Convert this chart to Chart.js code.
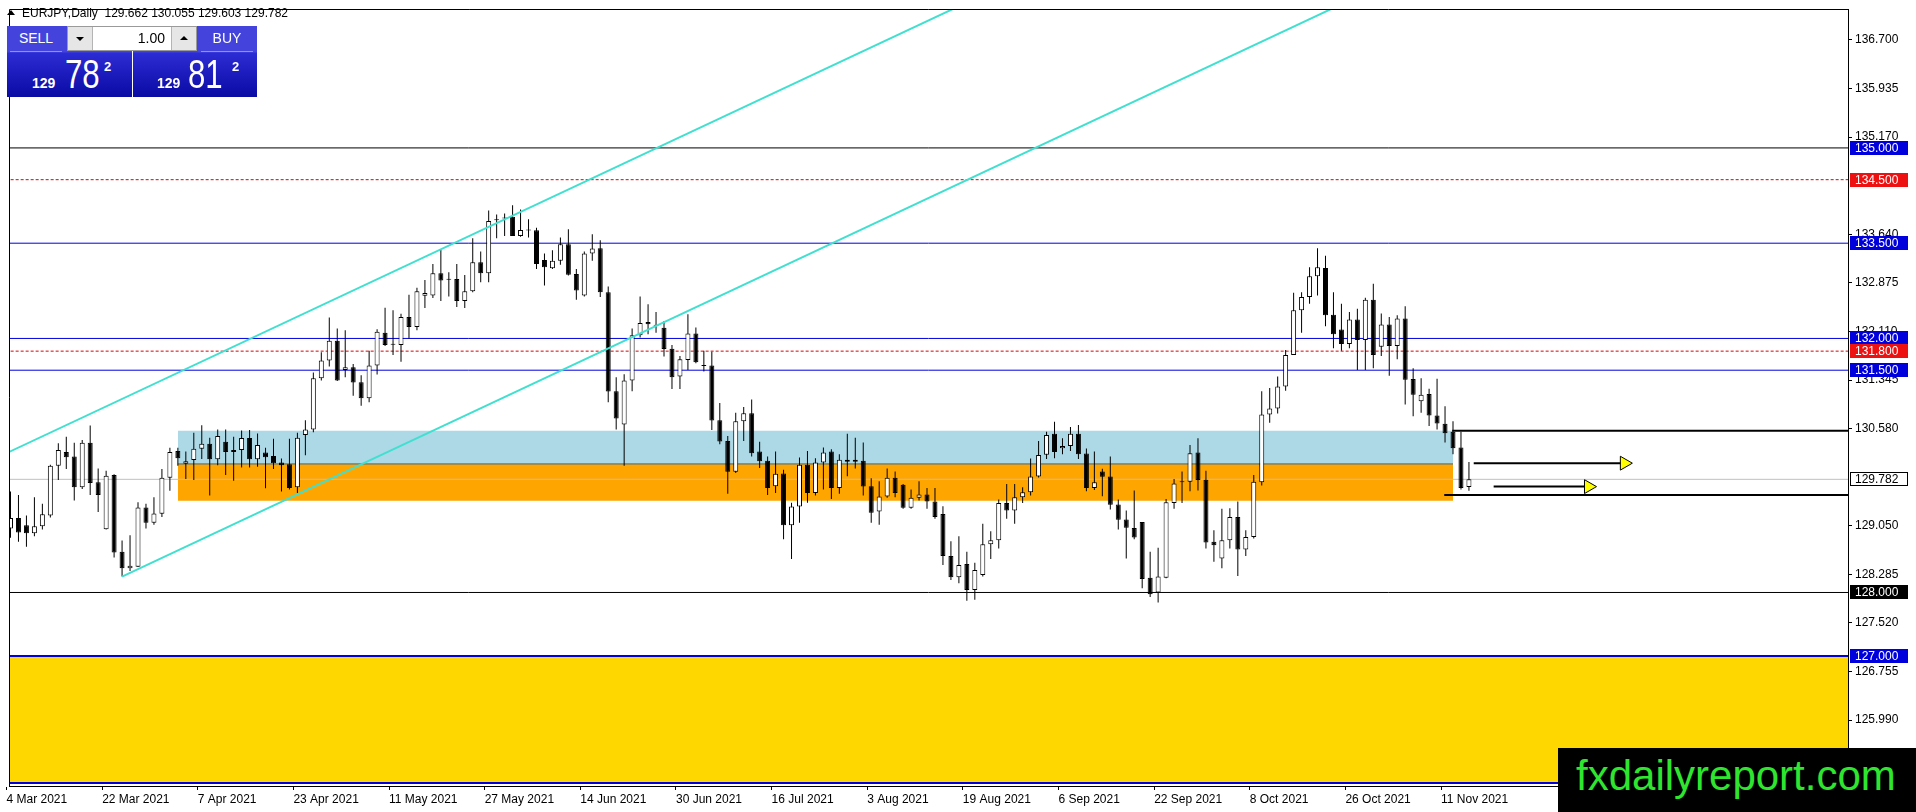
<!DOCTYPE html>
<html>
<head>
<meta charset="utf-8">
<title>EURJPY, Daily</title>
<script src="https://cdn.jsdelivr.net/npm/chart.js@4.4.0/dist/chart.umd.min.js"></script>
<style>
  html, body { margin: 0; padding: 0; background: #fff; }
  #wrap { position: relative; width: 1916px; height: 812px; overflow: hidden; font-family: "Liberation Sans", Arial, sans-serif; }
  #chart { position: absolute; left: 0; top: 0; }
  #title { position: absolute; left: 22px; top: 7px; font-size: 12px; line-height: 1; color: #000; white-space: pre; }
  #tri { position: absolute; left: 7px; top: 10px; width: 0; height: 0;
    border-left: 4px solid transparent; border-right: 4px solid transparent; border-bottom: 5px solid #000; }
  .blk { position: absolute; top: 26px; height: 71px; overflow: hidden; color: #fff;
    background: linear-gradient(to bottom, #4444dc 0px, #4444dc 26px, #2c2cd4 27px, #0a0aa4 71px); }
  #sell { left: 7px; width: 125px; }
  #buy { left: 133px; width: 124px; }
  .lab { position: absolute; top: 0; width: 52px; height: 25px; line-height: 25px; text-align: center;
    font-size: 14px; border-bottom: 1px solid #9090f0; }
  #sell .lab { left: 3px; }
  #buy .lab { left: 68px; }
  .big { position: absolute; line-height: 1; white-space: nowrap; }
  .b1 { top: 50px; font-size: 14px; font-weight: bold; }
  .b2 { top: 28px; font-size: 40px; transform: scaleX(0.78); transform-origin: left top; }
  .b3 { top: 34px; font-size: 13px; font-weight: bold; }
  #lot { position: absolute; left: 67px; top: 26px; width: 128px; height: 23px; background: #fff; border: 1px solid #9a9a9a; }
  #lot .btn { position: absolute; top: 0; width: 24px; height: 23px; background: #e6e6e6; }
  #lot .dn { left: 0; border-right: 1px solid #b4b4b4; }
  #lot .up { right: 0; border-left: 1px solid #b4b4b4; }
  #lot .btn i { position: absolute; left: 8px; width: 0; height: 0; border-left: 4px solid transparent; border-right: 4px solid transparent; }
  #lot .dn i { top: 10px; border-top: 4px solid #000; }
  #lot .up i { top: 9px; border-bottom: 4px solid #000; }
  #lot .val { position: absolute; left: 26px; width: 71px; top: 0; height: 23px; line-height: 23px; text-align: right; font-size: 14px; color: #000; }
  #brand { position: absolute; left: 1558px; top: 748px; width: 358px; height: 64px; background: #000; }
  #brand span { position: absolute; left: 18px; top: 7px; font-size: 42px; line-height: 1; color: #2fe52f; white-space: nowrap; }
</style>
</head>
<body>
<div id="wrap">
  <canvas id="chart" width="1916" height="812"></canvas>
  <div id="tri"></div>
  <div id="title"></div>
  <div class="blk" id="sell">
    <div class="lab">SELL</div>
    <span class="big b1" style="left:25px">129</span>
    <span class="big b2" style="left:58px">78</span>
    <span class="big b3" style="left:97px">2</span>
  </div>
  <div class="blk" id="buy">
    <div class="lab">BUY</div>
    <span class="big b1" style="left:24px">129</span>
    <span class="big b2" style="left:55px">81</span>
    <span class="big b3" style="left:99px">2</span>
  </div>
  <div id="lot">
    <div class="btn dn"><i></i></div>
    <div class="val">1.00</div>
    <div class="btn up"><i></i></div>
  </div>
  <div id="brand"><span>fxdailyreport.com</span></div>
</div>
<script>
// daily bars, 4 Mar 2021 .. 16 Nov 2021 (index = bar number)
const opens = [
  129.006, 129.172, 129.058, 128.933, 129.042, 129.214, 129.995, 130.213, 130.140, 129.657,
  130.359, 129.735, 128.995, 129.850, 128.640, 128.380, 128.406, 129.339, 129.100, 129.240,
  129.807, 130.229, 130.026, 130.088, 130.265, 130.343, 130.099, 130.375, 130.213, 130.244,
  130.432, 130.099, 130.203, 130.150, 130.047, 130.021, 129.657, 130.479, 130.567, 131.375,
  131.651, 131.963, 131.505, 131.547, 131.312, 131.057, 131.573, 132.088, 131.906, 131.895,
  132.338, 132.182, 132.672, 132.677, 133.026, 132.930, 132.937, 132.588, 132.745, 133.198,
  133.026, 133.860, 133.890, 133.916, 133.614, 133.703, 133.703, 133.234, 133.104, 133.224,
  133.484, 133.015, 132.677, 133.338, 133.421, 132.729, 131.167, 130.646, 131.339, 132.052,
  132.260, 132.209, 132.167, 131.839, 131.401, 131.662, 132.078, 131.568, 131.573, 130.714,
  130.386, 129.901, 130.698, 130.823, 130.219, 130.073, 129.672, 129.875, 129.058, 129.354,
  130.011, 129.568, 130.047, 130.219, 129.646, 130.089, 130.057, 130.073, 129.672, 129.276,
  129.511, 129.808, 129.698, 129.334, 129.490, 129.541, 129.432, 129.234, 128.573, 128.239,
  128.448, 128.041, 128.276, 128.760, 128.823, 129.411, 129.291, 129.500, 129.578, 129.828,
  130.167, 130.500, 130.271, 130.308, 130.500, 130.188, 129.646, 129.906, 129.828, 129.385,
  129.151, 129.015, 129.109, 128.234, 127.999, 128.234, 129.411, 129.735, 129.745, 130.203,
  129.776, 128.797, 128.537, 128.823, 129.188, 128.677, 128.875, 129.735, 130.802, 130.896,
  131.245, 131.740, 132.443, 132.651, 132.980, 133.110, 132.375, 132.141, 131.912, 132.297,
  131.974, 132.610, 131.870, 132.219, 131.880, 132.313, 131.360, 131.011, 131.125, 130.787,
  130.657, 130.532, 130.282, 129.662
];
const highs = [
  129.589, 129.537, 129.214, 129.500, 129.396, 130.010, 130.350, 130.453, 130.359, 130.400,
  130.630, 129.953, 129.917, 129.860, 128.820, 128.900, 129.420, 129.396, 129.500, 129.943,
  130.280, 130.280, 130.220, 130.515, 130.635, 130.437, 130.567, 130.567, 130.453, 130.552,
  130.557, 130.505, 130.280, 130.420, 130.109, 130.420, 130.515, 130.713, 131.463, 131.781,
  132.328, 132.156, 132.130, 131.599, 131.420, 131.807, 132.146, 132.484, 132.443, 132.390,
  132.687, 132.797, 132.922, 133.172, 133.396, 133.042, 133.172, 133.000, 133.578, 133.370,
  134.015, 133.950, 133.968, 134.098, 134.030, 133.875, 133.745, 133.338, 133.390, 133.589,
  133.718, 133.093, 133.370, 133.640, 133.547, 132.817, 131.391, 131.438, 132.157, 132.662,
  132.537, 132.417, 132.276, 131.896, 131.724, 132.380, 132.172, 131.808, 131.792, 130.985,
  130.464, 130.829, 130.922, 131.037, 130.375, 130.141, 130.219, 129.933, 129.412, 130.125,
  130.229, 130.115, 130.281, 130.255, 130.177, 130.500, 130.438, 130.360, 129.797, 129.750,
  129.953, 129.907, 129.710, 129.620, 129.750, 129.645, 129.645, 129.359, 128.807, 128.885,
  128.640, 128.469, 129.083, 128.963, 129.463, 129.708, 129.708, 129.656, 130.109, 130.386,
  130.532, 130.688, 130.427, 130.605, 130.636, 130.266, 130.219, 129.950, 130.141, 129.463,
  129.291, 129.604, 129.110, 128.640, 128.703, 129.473, 129.786, 129.906, 130.323, 130.427,
  129.917, 128.979, 129.318, 129.328, 129.433, 128.979, 129.849, 131.167, 131.219, 131.401,
  131.818, 132.719, 132.729, 133.120, 133.422, 133.302, 132.729, 132.547, 132.417, 132.469,
  132.641, 132.860, 132.391, 132.339, 132.365, 132.506, 131.531, 131.375, 131.209, 131.365,
  130.933, 130.698, 130.532, 130.055
];
const lows = [
  128.860, 128.797, 128.719, 128.886, 128.990, 129.180, 129.771, 129.943, 129.448, 129.630,
  129.537, 129.266, 128.990, 128.550, 128.250, 128.340, 128.400, 129.006, 129.068, 129.188,
  129.600, 129.995, 129.787, 129.771, 130.100, 129.526, 130.005, 129.850, 129.760, 129.970,
  129.970, 129.980, 129.640, 129.943, 129.589, 129.620, 129.568, 130.160, 130.525, 131.338,
  131.557, 131.330, 131.390, 131.099, 130.942, 130.994, 131.432, 131.880, 131.740, 131.635,
  132.000, 132.130, 132.479, 132.635, 132.588, 132.661, 132.495, 132.479, 132.729, 132.885,
  132.885, 133.578, 133.614, 133.614, 133.600, 133.588, 133.093, 132.833, 133.093, 133.161,
  132.990, 132.609, 132.661, 133.224, 132.651, 130.994, 130.568, 129.995, 131.167, 132.016,
  132.068, 132.089, 131.714, 131.203, 131.203, 131.505, 131.610, 131.479, 130.558, 130.334,
  129.553, 129.880, 130.386, 130.141, 129.959, 129.537, 129.568, 128.839, 128.526, 129.100,
  129.412, 129.526, 129.620, 129.474, 129.553, 129.829, 129.953, 129.526, 129.100, 129.068,
  129.490, 129.500, 129.320, 129.320, 129.448, 129.317, 129.161, 128.432, 128.198, 128.146,
  127.870, 127.885, 128.250, 128.526, 128.692, 129.161, 129.083, 129.411, 129.526, 129.812,
  130.100, 130.115, 130.177, 130.229, 130.100, 129.594, 129.615, 129.515, 129.307, 128.990,
  128.536, 128.838, 128.067, 127.927, 127.843, 128.224, 129.317, 129.411, 129.593, 129.604,
  128.692, 128.485, 128.380, 128.693, 128.261, 128.573, 128.849, 129.683, 130.672, 130.818,
  131.177, 131.740, 132.089, 132.547, 132.677, 132.193, 131.844, 131.808, 131.844, 131.505,
  131.505, 131.531, 131.724, 131.412, 131.672, 130.959, 130.776, 130.829, 130.620, 130.568,
  130.360, 130.177, 129.620, 129.603
];
const closes = [
  129.172, 128.943, 128.933, 129.042, 129.230, 129.995, 130.245, 130.130, 129.657, 130.359,
  129.724, 129.537, 129.839, 128.630, 128.380, 128.420, 129.339, 129.100, 129.245, 129.807,
  130.214, 130.114, 130.067, 130.265, 130.343, 130.099, 130.463, 130.213, 130.244, 130.432,
  130.099, 130.322, 130.130, 130.036, 130.005, 129.646, 130.437, 130.567, 131.375, 131.651,
  131.963, 131.338, 131.547, 131.307, 131.057, 131.573, 132.104, 131.895, 131.900, 132.338,
  132.182, 132.745, 132.714, 133.026, 132.911, 132.925, 132.588, 132.745, 133.198, 133.026,
  133.849, 133.865, 133.893, 133.614, 133.708, 133.700, 133.172, 133.120, 133.224, 133.484,
  133.005, 132.755, 133.338, 133.416, 132.729, 131.166, 130.740, 131.339, 132.052, 132.245,
  132.224, 132.200, 131.834, 131.391, 131.672, 132.078, 131.625, 131.568, 130.709, 130.376,
  129.901, 130.698, 130.823, 130.193, 130.068, 129.646, 129.870, 129.058, 129.354, 130.011,
  129.568, 130.047, 130.203, 129.646, 130.089, 130.057, 130.089, 129.667, 129.256, 129.511,
  129.808, 129.568, 129.334, 129.490, 129.542, 129.432, 129.187, 128.573, 128.239, 128.432,
  128.041, 128.354, 128.760, 128.823, 129.411, 129.291, 129.500, 129.578, 129.828, 130.166,
  130.480, 130.214, 130.308, 130.500, 130.177, 129.646, 129.735, 129.823, 129.380, 129.145,
  129.020, 128.864, 128.213, 127.974, 128.250, 129.421, 129.718, 129.740, 130.193, 129.771,
  128.786, 128.745, 128.823, 129.188, 128.677, 128.875, 129.745, 130.802, 130.896, 131.245,
  131.740, 132.443, 132.651, 132.980, 133.120, 132.365, 132.068, 131.912, 132.297, 131.974,
  132.610, 131.740, 132.219, 131.880, 132.313, 131.349, 131.115, 131.115, 130.787, 130.662,
  130.506, 130.271, 129.646, 129.782
];

// time axis: a label every 12 bars
const dateLabels = ['4 Mar 2021', '22 Mar 2021', '7 Apr 2021', '23 Apr 2021', '11 May 2021', '27 May 2021',
  '14 Jun 2021', '30 Jun 2021', '16 Jul 2021', '3 Aug 2021', '19 Aug 2021', '6 Sep 2021',
  '22 Sep 2021', '8 Oct 2021', '26 Oct 2021', '11 Nov 2021'];
const labelStep = 12;
const labelShift = -0.5;   // MT4 starts the text a little left of the bar

// price axis ticks (the ones hidden under tags are left out)
const priceTicks = [136.700, 135.935, 135.170, 133.640, 132.875, 132.110, 131.345, 130.580,
  129.050, 128.285, 127.520, 126.755, 125.990];

// drawn levels
const blackLevels = [135.0, 128.0];
const blueLevels = [133.5, 132.0, 131.5];
const redLevels = [134.5, 131.8];
const thickBlueLevels = [127.0, 125.0];
const bidPrice = 129.782;

// boxes: [top, bottom]
const resistBox = [130.547, 130.025];
const supportBox = [130.025, 129.443];
const targetBox = [127.0, 125.0];
const boxFromBar = 21;
const boxToBar = 181;

// channel lines: [bar, price] anchors
const channelUpper = [[-1, 130.164], [125, 137.585]];
const channelLower = [[14, 128.25], [170, 137.44]];

// right side rays: [start bar, price]
const rays = [[180.9, 130.547], [179.9, 129.536]];
// arrows: [start bar, head bar, price]
const arrows = [[183.6, 202.5, 130.036], [186.1, 198, 129.667]];

// price tags on the axis
const tagPrices = [135.0, 134.5, 133.5, 132.0, 131.8, 131.5, 129.782, 128.0, 127.0];
const tagKinds = ['blue', 'red', 'blue', 'blue', 'red', 'blue', 'bid', 'black', 'blue'];

const last = closes.length - 1;
document.getElementById('title').textContent = 'EURJPY,Daily  ' +
  [opens[last], highs[last], lows[last], closes[last]].map(v => v.toFixed(3)).join(' ');

const FAR_L = -5, FAR_R = 240;
const BLUE = '#0000dd', RED = '#e00000';

function hline(price, color, width, dash, from, to) {
  return {
    type: 'line',
    data: [{x: from === undefined ? FAR_L : from, y: price}, {x: to === undefined ? FAR_R : to, y: price}],
    borderColor: color, borderWidth: width, borderDash: dash || [], pointRadius: 0, fill: false, clip: 0
  };
}
function box(range, from, to, color) {
  return {
    type: 'line', data: [{x: from, y: range[0]}, {x: to, y: range[0]}],
    borderWidth: 0, borderColor: 'transparent', pointRadius: 0,
    fill: {value: range[1]}, backgroundColor: color, clip: 0
  };
}
function tline(pts) {
  return {
    type: 'line', data: pts.map(p => ({x: p[0], y: p[1]})),
    borderColor: '#40e0d0', borderWidth: 2, pointRadius: 0, fill: false, clip: 0
  };
}

const bars = opens.map((_, i) => i);
const bodyColor = bars.map(i => closes[i] >= opens[i] ? '#ffffff' : '#000000');

// first dataset is drawn on top
const datasets = [];
arrows.forEach(a => datasets.push({
  type: 'line', data: [{x: a[0], y: a[2]}, {x: a[1], y: a[2]}],
  borderColor: '#000', borderWidth: 2, fill: false, clip: 0,
  pointRadius: [0, 8], pointStyle: 'triangle', rotation: 90,
  pointBackgroundColor: '#ffff00', pointBorderColor: '#000', pointBorderWidth: 1
}));
datasets.push(tline(channelUpper), tline(channelLower));
datasets.push({
  type: 'bar', data: bars.map(i => ({x: i, y: [opens[i], closes[i]]})),
  backgroundColor: bodyColor, borderColor: '#000', borderWidth: 1, borderSkipped: false,
  barThickness: 5, minBarLength: 1, grouped: false, inflateAmount: 0, clip: 0
});
datasets.push({
  type: 'bar', data: bars.map(i => ({x: i, y: [lows[i], highs[i]]})),
  backgroundColor: '#000', borderWidth: 0, barThickness: 1, grouped: false, inflateAmount: 0, clip: 0
});
rays.forEach(r => datasets.push(hline(r[1], '#000', 2, null, r[0])));
blackLevels.forEach(p => datasets.push(hline(p, '#000', 1)));
blueLevels.forEach(p => datasets.push(hline(p, BLUE, 1)));
thickBlueLevels.forEach(p => datasets.push(hline(p, BLUE, 2)));
redLevels.forEach(p => datasets.push(hline(p, RED, 1, [3, 2])));
datasets.push(hline(bidPrice, '#c0c0c0', 1));
datasets.push(hline(resistBox[1], '#aa8a3c', 2, null, boxFromBar, boxToBar));
datasets.push(box(resistBox, boxFromBar, boxToBar, '#add8e6'));
datasets.push(box(supportBox, boxFromBar, boxToBar, '#ffa500'));
datasets.push(box(targetBox, FAR_L, FAR_R, '#ffd700'));

const tagStyle = {
  blue: ['#0000dd', '#ffffff'],
  red: ['#ee1111', '#ffffff'],
  black: ['#000000', '#ffffff'],
  bid: ['#ffffff', '#000000']
};

const frameAndTags = {
  id: 'frameAndTags',
  afterDraw(chart) {
    const {ctx, chartArea: area, scales: {y}} = chart;
    ctx.save();
    ctx.strokeStyle = '#000';
    ctx.lineWidth = 1;
    ctx.beginPath();
    ctx.moveTo(area.left + 0.5, area.bottom);
    ctx.lineTo(area.left + 0.5, area.top + 0.5);
    ctx.lineTo(area.right, area.top + 0.5);
    ctx.stroke();
    ctx.font = '12px "Liberation Sans", Arial, sans-serif';
    ctx.textBaseline = 'middle';
    tagPrices.forEach((p, i) => {
      const py = Math.round(y.getPixelForValue(p));
      const [bg, fg] = tagStyle[tagKinds[i]];
      ctx.fillStyle = bg;
      ctx.fillRect(area.right + 2, py - 7, 58, 14);
      if (tagKinds[i] === 'bid') {
        ctx.strokeRect(area.right + 2.5, py - 6.5, 57, 13);
      }
      ctx.fillStyle = fg;
      ctx.fillText(p.toFixed(3), area.right + 7, py + 0.5);
    });
    ctx.restore();
  }
};

Chart.defaults.font.family = '"Liberation Sans", Arial, sans-serif';
Chart.defaults.font.size = 12;
Chart.defaults.color = '#000';

new Chart(document.getElementById('chart'), {
  type: 'bar',
  data: {datasets},
  options: {
    responsive: false,
    animation: false,
    events: [],
    layout: {padding: {left: 2, top: 3, right: 0, bottom: 0}},
    plugins: {legend: {display: false}, tooltip: {enabled: false}},
    scales: {
      x: {
        type: 'linear', min: -0.1875, max: 230.5625, offset: false,
        grid: {drawOnChartArea: false, tickLength: 4, color: '#000', offset: false},
        border: {display: true, color: '#000'},
        ticks: {
          autoSkip: false, maxRotation: 0, minRotation: 0, align: 'start', padding: 2,
          callback: v => dateLabels[Math.round((v - labelShift) / labelStep)] || ''
        },
        afterBuildTicks: s => { s.ticks = dateLabels.map((_, k) => ({value: k * labelStep + labelShift})); },
        afterFit: s => { s.height = 26; s.paddingLeft = 0; s.paddingRight = 0; }
      },
      y: {
        type: 'linear', position: 'right', min: 124.953, max: 137.1875, beginAtZero: false,
        grid: {drawOnChartArea: false, tickLength: 4, color: '#000'},
        border: {display: true, color: '#000'},
        ticks: {padding: 3, callback: v => Number(v).toFixed(3)},
        afterBuildTicks: s => { s.ticks = priceTicks.map(v => ({value: v})); },
        afterFit: s => { s.width = 68; s.paddingTop = 0; s.paddingBottom = 0; }
      }
    }
  },
  plugins: [frameAndTags]
});
</script>
</body>
</html>
